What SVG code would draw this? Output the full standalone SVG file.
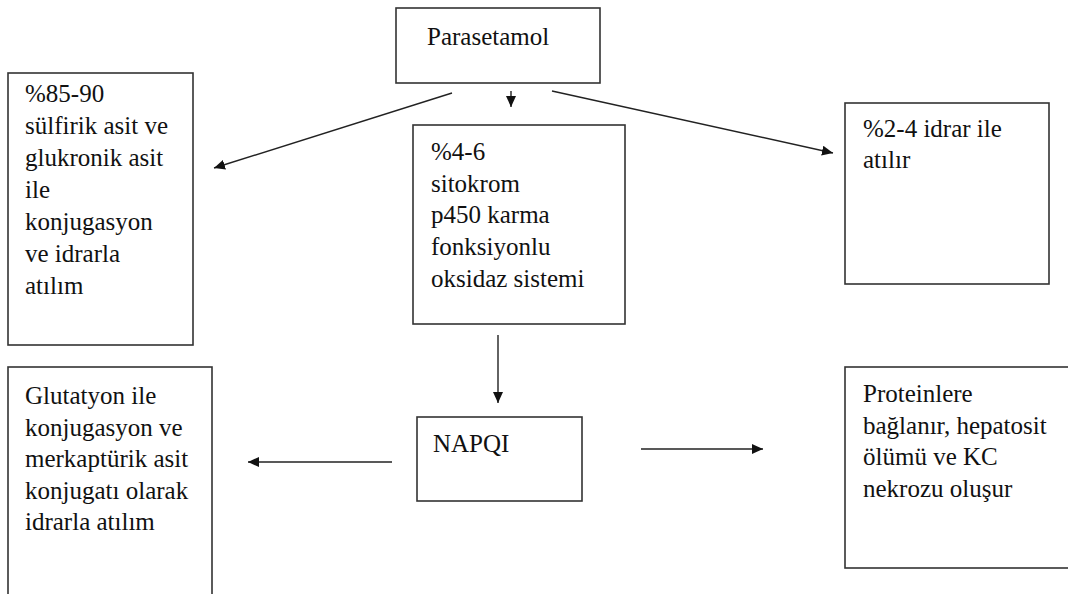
<svg xmlns="http://www.w3.org/2000/svg" width="1068" height="594" viewBox="0 0 1068 594">
  <style>
    .box { fill: #ffffff; stroke: #333333; stroke-width: 1.6; }
    .lbl { font-family: 'Liberation Serif', 'Times New Roman', Times, 'DejaVu Serif', serif; font-size: 25px; fill: #111111; }
    .conn { stroke: #222222; stroke-width: 1.4; fill: none; marker-end: url(#arrow); }
  </style>
  <defs>
    <marker id="arrow" markerUnits="userSpaceOnUse" markerWidth="12" markerHeight="10" refX="11" refY="5" orient="auto">
      <path d="M0,0 L11,5 L0,10 z" fill="#111111"/>
    </marker>
  </defs>
  <rect width="1068" height="594" fill="#ffffff"/>

  <g font-family="Liberation Serif, Times New Roman, DejaVu Serif, serif">
  <g id="parasetamol">
    <rect class="box" x="396" y="8" width="204" height="75"/>
    <text class="lbl" x="427" y="45">Parasetamol</text>
  </g>

  <g id="konjugasyon">
    <rect class="box" x="8" y="73" width="185" height="272"/>
    <text class="lbl" x="25" y="102">%85-90</text>
    <text class="lbl" x="25" y="134">sülfirik asit ve</text>
    <text class="lbl" x="25" y="166">glukronik asit</text>
    <text class="lbl" x="25" y="198">ile</text>
    <text class="lbl" x="25" y="230">konjugasyon</text>
    <text class="lbl" x="25" y="262">ve idrarla</text>
    <text class="lbl" x="25" y="294">atılım</text>
  </g>

  <g id="sitokrom">
    <rect class="box" x="413" y="125" width="212" height="199"/>
    <text class="lbl" x="431" y="160">%4-6</text>
    <text class="lbl" x="431" y="192">sitokrom</text>
    <text class="lbl" x="431" y="223">p450 karma</text>
    <text class="lbl" x="431" y="255">fonksiyonlu</text>
    <text class="lbl" x="431" y="287">oksidaz sistemi</text>
  </g>

  <g id="idrar">
    <rect class="box" x="845" y="103" width="204" height="181"/>
    <text class="lbl" x="863" y="137">%2-4 idrar ile</text>
    <text class="lbl" x="863" y="168">atılır</text>
  </g>

  <g id="napqi">
    <rect class="box" x="417" y="417" width="165" height="84"/>
    <text class="lbl" x="433" y="452">NAPQI</text>
  </g>

  <g id="glutatyon">
    <rect class="box" x="8" y="367" width="204" height="240"/>
    <text class="lbl" x="25" y="404">Glutatyon ile</text>
    <text class="lbl" x="25" y="435.5">konjugasyon ve</text>
    <text class="lbl" x="25" y="467">merkaptürik asit</text>
    <text class="lbl" x="25" y="498.5">konjugatı olarak</text>
    <text class="lbl" x="25" y="530">idrarla atılım</text>
  </g>

  <g id="proteinler">
    <rect class="box" x="845" y="367" width="240" height="201"/>
    <text class="lbl" x="863" y="402">Proteinlere</text>
    <text class="lbl" x="863" y="433.5">bağlanır, hepatosit</text>
    <text class="lbl" x="863" y="465">ölümü ve KC</text>
    <text class="lbl" x="863" y="496.5">nekrozu oluşur</text>
  </g>
  </g>

  <g id="connectors">
    <line class="conn" x1="452" y1="93" x2="214" y2="168"/>
    <line class="conn" x1="511" y1="91" x2="511" y2="107"/>
    <line class="conn" x1="552" y1="91" x2="833" y2="153"/>
    <line class="conn" x1="498" y1="335" x2="498" y2="403"/>
    <line class="conn" x1="392" y1="462" x2="248" y2="462"/>
    <line class="conn" x1="641" y1="449" x2="763" y2="449"/>
  </g>
</svg>
